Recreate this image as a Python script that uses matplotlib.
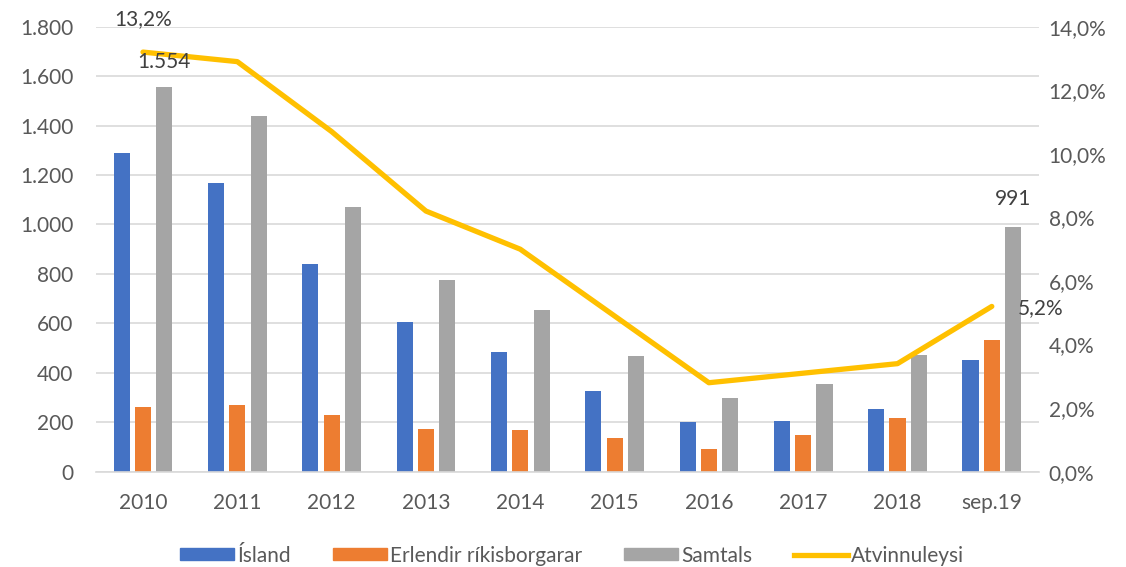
import matplotlib.pyplot as plt
import matplotlib.ticker as mticker
from matplotlib.lines import Line2D
from matplotlib.patches import Patch
import numpy as np

plt.rcParams['font.family'] = ['Lato', 'DejaVu Sans']

years = ['2010', '2011', '2012', '2013', '2014', '2015', '2016', '2017', '2018', 'sep.19']
island = [1290, 1167, 840, 604, 484, 326, 201, 206, 252, 453]
erlendir = [260, 270, 228, 172, 167, 136, 93, 147, 217, 531]
samtals = [1554, 1438, 1070, 777, 654, 467, 297, 355, 472, 991]
atvinnuleysi = [13.2, 12.9, 10.7, 8.2, 7.0, 4.9, 2.8, 3.1, 3.4, 5.2]

BLUE = '#4472C4'
ORANGE = '#ED7D31'
GREY = '#A5A5A5'
YELLOW = '#FFC000'
TEXT = '#595959'
FS = 15

fig = plt.figure(figsize=(11.26, 5.67), dpi=100)
ax = fig.add_axes([0.0851, 0.168, 0.8376, 0.785])
ax2 = ax.twinx()

x = np.arange(len(years))
step = 0.226
width = 0.17
ax.bar(x - step, island, width, color=BLUE, zorder=2)
ax.bar(x, erlendir, width, color=ORANGE, zorder=2)
ax.bar(x + step, samtals, width, color=GREY, zorder=2)

ax.set_xlim(-0.5, len(years) - 0.5)
ax.set_ylim(0, 1800)
ax.set_yticks(np.arange(0, 1801, 200))
ax.yaxis.set_major_formatter(mticker.FuncFormatter(lambda v, p: f'{int(v):,}'.replace(',', '.')))
ax.grid(axis='y', color='#d9d9d9', linewidth=1.2, zorder=0)
ax.set_axisbelow(True)
ax.set_xticks(x)
ax.set_xticklabels(years)

ax2.plot(x, atvinnuleysi, color=YELLOW, linewidth=3.8, solid_capstyle='round', zorder=3)
ax2.set_ylim(0, 14)
ax2.set_yticks(np.arange(0, 14.1, 2))
ax2.yaxis.set_major_formatter(mticker.FuncFormatter(lambda v, p: f'{v:.1f}%'.replace('.', ',')))

for a in (ax, ax2):
    for s in a.spines.values():
        s.set_visible(False)
    a.tick_params(length=0, labelsize=FS, labelcolor=TEXT)
ax.spines['bottom'].set_visible(True)
ax.spines['bottom'].set_color('#d9d9d9')
ax.spines['bottom'].set_linewidth(1.2)
ax.tick_params(axis='y', pad=16)
ax.tick_params(axis='x', pad=15)
ax2.tick_params(axis='y', pad=7)

# value labels on first and last points/bars, drawn above the line
lab = dict(textcoords='offset points', ha='center', va='center', fontsize=FS, color='#404040',
           zorder=5)
ax2.annotate(f'{samtals[0]:,}'.replace(',', '.'), (x[0] + step, samtals[0]), xycoords=ax.transData,
             xytext=(0, 18), **lab)
ax2.annotate(f'{samtals[-1]}', (x[-1] + step, samtals[-1]), xycoords=ax.transData,
             xytext=(0, 20), **lab)
ax2.annotate(f'{atvinnuleysi[0]:.1f}%'.replace('.', ','), (x[0], atvinnuleysi[0]),
             xytext=(0, 24), **lab)
ax2.annotate(f'{atvinnuleysi[-1]:.1f}%'.replace('.', ','), (x[-1], atvinnuleysi[-1]),
             xytext=(35, -1), **lab)

handles = [Patch(color=BLUE), Patch(color=ORANGE), Patch(color=GREY),
           Line2D([], [], color=YELLOW, linewidth=3.8)]
labels = ['Ísland', 'Erlendir ríkisborgarar', 'Samtals', 'Atvinnuleysi']
leg = fig.legend(handles, labels, loc='center', bbox_to_anchor=(0.508, 0.02), ncol=4,
                 frameon=False, fontsize=FS, handlelength=2.6, handleheight=0.5,
                 handletextpad=0.15, columnspacing=2.0, labelcolor=TEXT)

fig.savefig('out.png', dpi=100)
